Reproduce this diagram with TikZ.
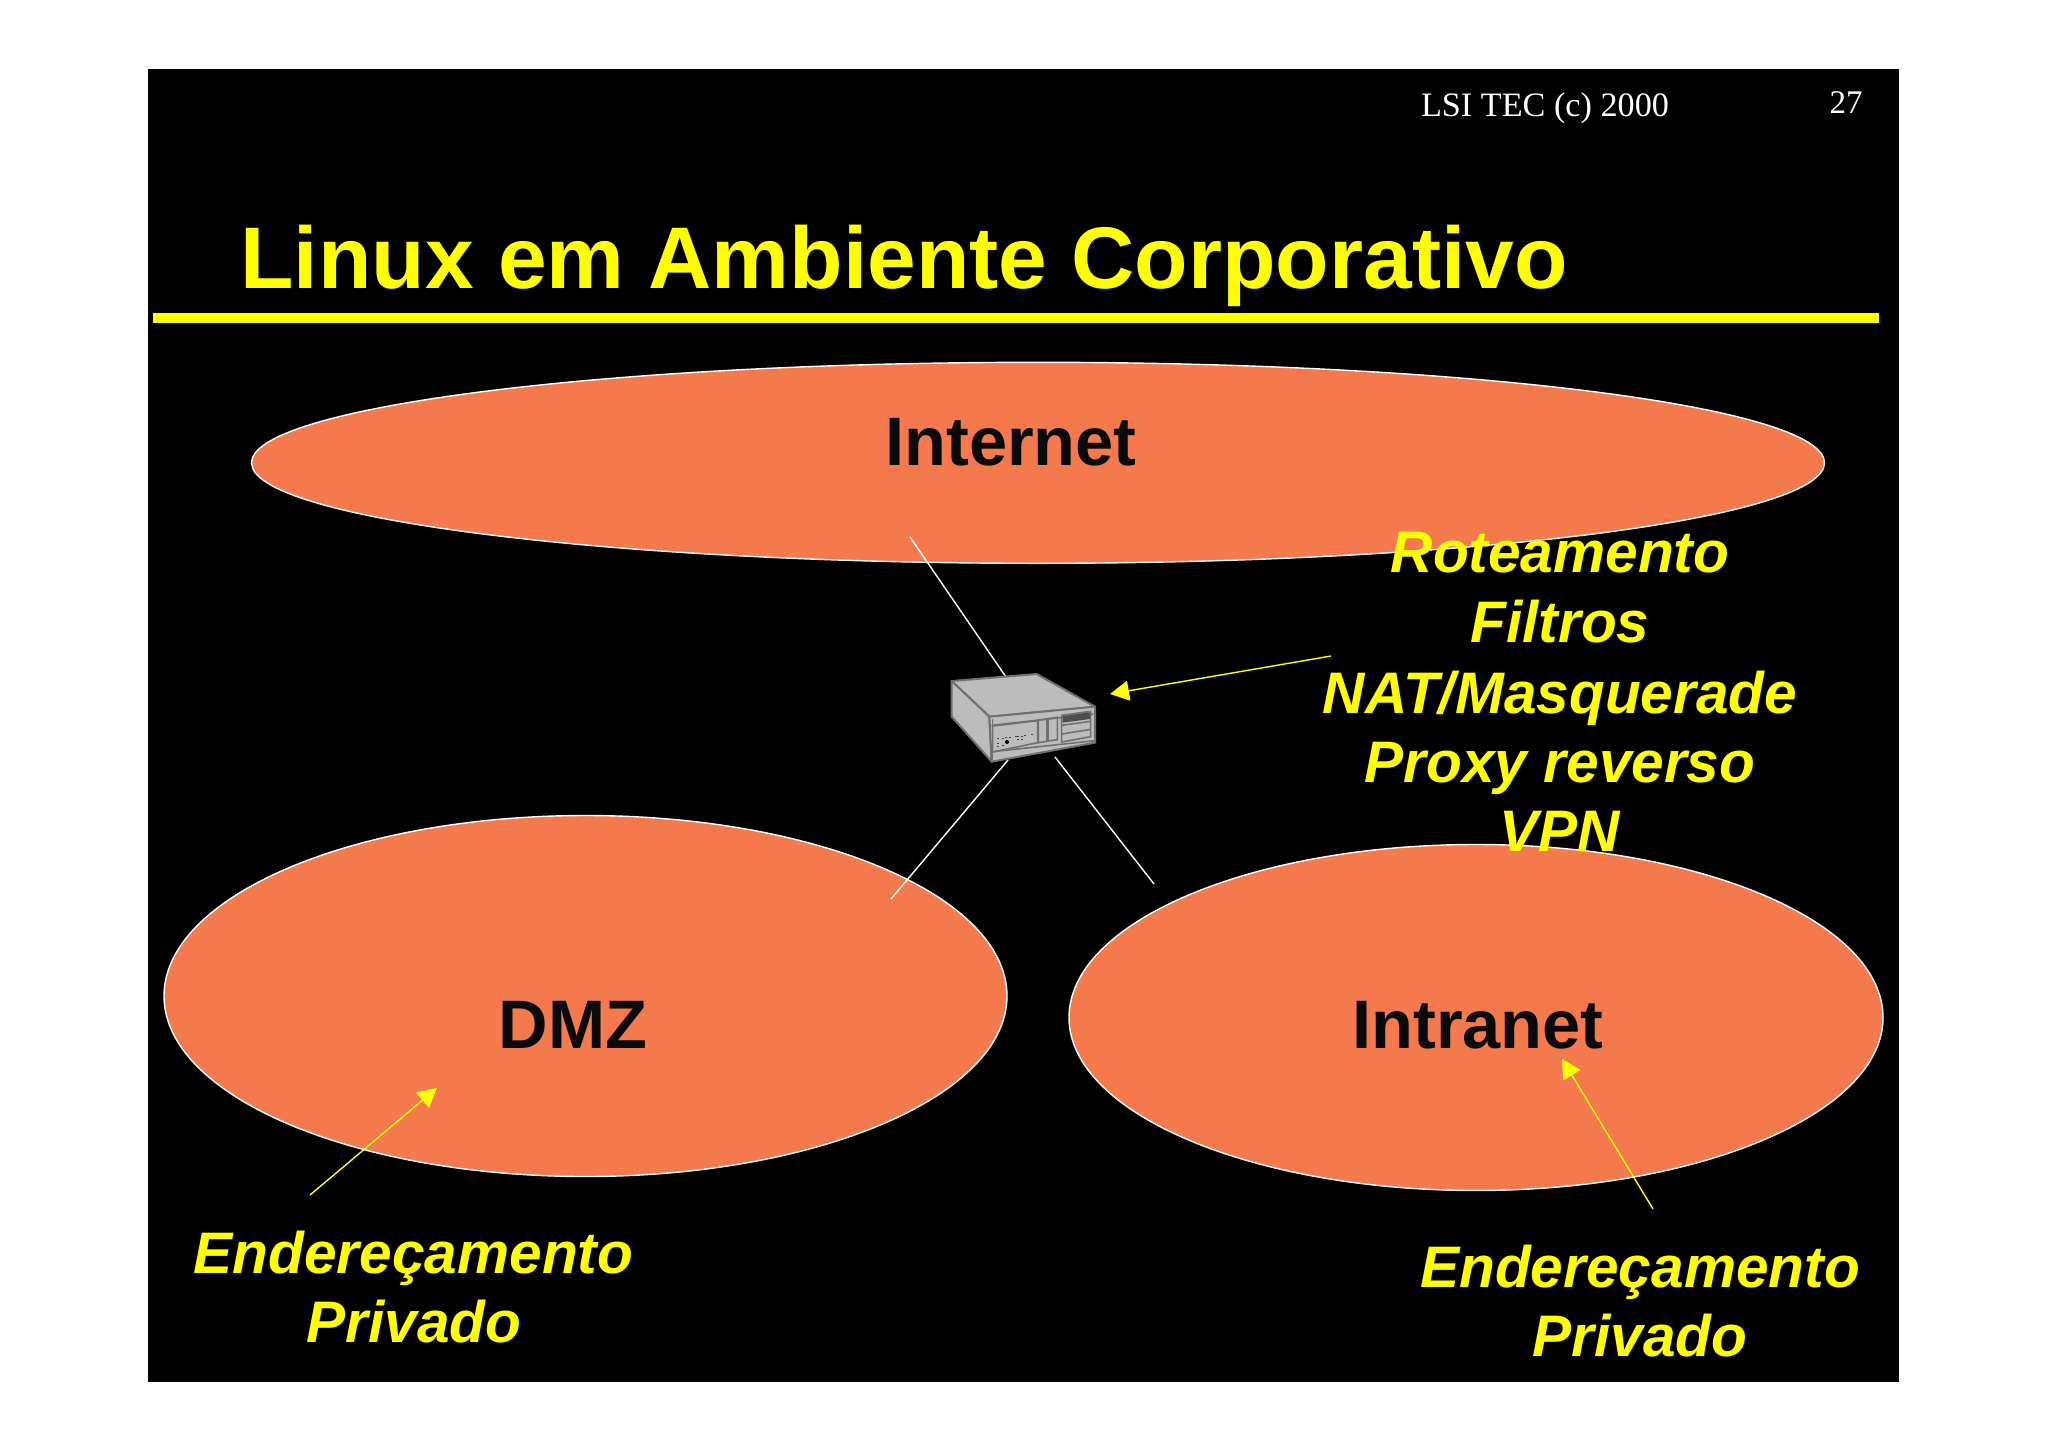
\documentclass[tikz,border=0pt]{standalone}
\usepackage{fontspec}
\setmainfont{Liberation Sans}
\newfontfamily\timesx{Liberation Serif}
\usetikzlibrary{shapes.geometric,arrows.meta}
\definecolor{blob}{HTML}{F47A4E}
\definecolor{ylw}{HTML}{FFFF00}
\definecolor{inktext}{HTML}{0A0A0A}
\definecolor{devfill}{HTML}{BCBCBC}
\definecolor{devline}{HTML}{707070}
\tikzset{
  cloudzone/.style={ellipse,draw=white,line width=0.7pt,fill=blob,inner sep=0pt},
  zonelabel/.style={anchor=base,text=inktext,font=\fontsize{34.3}{36}\selectfont\bfseries},
  notelabel/.style={anchor=base,text=ylw,font=\fontsize{29.3}{31}\selectfont\bfseries\itshape},
  hdrlabel/.style={anchor=base,text=white,font=\timesx\fontsize{17.1}{18}\selectfont},
  link/.style={draw=white,line width=0.7pt},
  yarrow/.style={draw=ylw,line width=0.7pt,-{Triangle[length=9.5pt,width=10pt,fill=ylw]}},
  devshape/.style={draw=devline,fill=devfill,line width=1pt,line join=round},
  devthin/.style={draw=devline,line width=0.8pt}
}
\begin{document}
\begin{tikzpicture}[x=0.5pt,y=-0.5pt]
\useasboundingbox (0,0) rectangle (2048,1450);
\fill[white] (0,0) rectangle (2048,1450);
\fill[black] (148,69) rectangle (1899,1382);
\fill[ylw] (153,313) rectangle (1879,323);
\node[hdrlabel] (hdr) at (1545,117) {LSI TEC (c) 2000};
\node[hdrlabel,font=\timesx\fontsize{16.5}{18}\selectfont] (pg) at (1846,113) {27};
\node[anchor=base west,inner sep=0pt,text=ylw,font=\fontsize{43.75}{46}\selectfont\bfseries] (title) at (240,288) {Linux em Ambiente Corporativo};
\node[cloudzone,minimum width=786.5pt,minimum height=100.5pt] (inet) at (1038,462.8) {};
\node[cloudzone,minimum width=421.5pt,minimum height=180.5pt] (dmz) at (585.5,996) {};
\node[cloudzone,minimum width=407pt,minimum height=173pt] (intra) at (1476,1017.5) {};
\coordinate (l1a) at (910,537); \coordinate (l1b) at (1006,677);
\coordinate (l2a) at (1008,760); \coordinate (l2b) at (891,899);
\coordinate (l3a) at (1055,757); \coordinate (l3b) at (1154,884);
\draw[link] (l1a) -- (l1b);
\draw[link] (l2a) -- (l2b);
\draw[link] (l3a) -- (l3b);
\begin{scope}[shift={(900,620)},x=0.16667pt,y=-0.16667pt]
\path[devshape] (155,183) -- (410,162) -- (585,260) -- (268,290) -- cycle;
\path[devshape] (155,183) -- (268,290) -- (275,425) -- (155,290) -- cycle;
\path[devshape] (268,290) -- (585,260) -- (585,368) -- (275,425) -- cycle;
\draw[devthin] (277,298) -- (277,420);
\draw[devthin] (275,316) -- (580,282);
\draw[devthin] (277,395) -- (585,362);
\draw[devthin] (278,318) -- (413,302) -- (413,368) -- (278,396) -- cycle;
\draw[devthin] (415,300) -- (441,297) -- (441,364) -- (415,368) -- cycle;
\draw[devthin] (444,296) -- (472,292) -- (472,359) -- (444,363) -- cycle;
\draw[devthin] (485,286) -- (572,274) -- (572,350) -- (485,366) -- cycle;
\fill[devline!70!black] (488,288) -- (570,277) -- (570,297) -- (488,308) -- cycle;
\draw[devthin] (485,316) -- (572,304);
\draw[devthin] (485,342) -- (572,328);
\fill[black] (321,366) circle (6);
\foreach \mx/\my in {292/355,306/353,316/352,328/351,344/349,352/349,364/347,372/346,392/342,292/370,292/378,306/376,350/358,362/356}
  \fill[devline!60!black] (\mx,\my) rectangle ++(6,3);
\end{scope}
\coordinate (a1s) at (1331,656); \coordinate (a1e) at (1110,694);
\coordinate (a2s) at (310,1195); \coordinate (a2e) at (437,1088);
\coordinate (a3s) at (1653,1209); \coordinate (a3e) at (1562,1059);
\draw[yarrow] (a1s) -- (a1e);
\draw[yarrow] (a2s) -- (a2e);
\draw[yarrow] (a3s) -- (a3e);
\node[zonelabel] (tinet) at (1011,465) {Internet};
\node[zonelabel] (tdmz) at (573,1048) {DMZ};
\node[zonelabel] (tintra) at (1478,1048) {Intranet};
\node[notelabel] (n1) at (1560,572) {Roteamento};
\node[notelabel] (n2) at (1560,642) {Filtros};
\node[notelabel] (n3) at (1560,713) {NAT/Masquerade};
\node[notelabel] (n4) at (1560,782) {Proxy reverso};
\node[notelabel] (n5) at (1560,851) {VPN};
\node[notelabel] (e1) at (413.5,1273) {Endereçamento};
\node[notelabel] (p1) at (414,1342) {Privado};
\node[notelabel] (e2) at (1640,1287) {Endereçamento};
\node[notelabel] (p2) at (1640,1356) {Privado};
\end{tikzpicture}
\end{document}
